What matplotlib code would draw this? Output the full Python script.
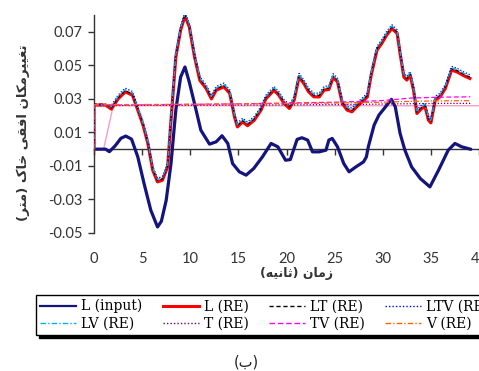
import matplotlib
matplotlib.use("Agg")
import matplotlib.pyplot as plt
from matplotlib.lines import Line2D

# ---------------- data ----------------
t_in = [0, 1.2, 1.6, 2.2, 2.8, 3.3, 3.9, 4.55, 5.2, 5.9, 6.6, 7.0, 7.5, 8.0, 8.5, 9.0, 9.45, 9.9,
        10.45, 11.1, 12.0, 12.7, 13.3, 13.9, 14.4, 15.1, 15.8, 16.6, 17.5, 18.4, 19.1, 19.9, 20.4,
        21.1, 21.6, 22.2, 22.7, 23.4, 24.1, 24.4, 24.75, 25.3, 25.95, 26.5, 27.2, 28.0, 28.3, 28.5,
        29.1, 29.6, 30.3, 30.9, 31.3, 31.8, 32.3, 33.0, 33.9, 34.9, 35.8, 36.8, 37.5, 38.2, 39.1]
L_input = [0, 0, -0.0015, 0.002, 0.0065, 0.0078, 0.006, -0.0046, -0.0205, -0.0364, -0.0464, -0.043,
           -0.0305, -0.0086, 0.0233, 0.043, 0.049, 0.040, 0.027, 0.0113, 0.003, 0.0044, 0.008, 0.0034,
           -0.0086, -0.0135, -0.0155, -0.0115, -0.0046, 0.0034, 0.0014, -0.0066, -0.0062, 0.0058,
           0.0068, 0.0054, -0.0016, -0.0016, -0.0006, 0.0054, 0.0064, 0.0014, -0.0086, -0.0135,
           -0.0106, -0.0076, -0.0046, 0.0014, 0.0143, 0.0203, 0.0253, 0.0297, 0.0253, 0.0094,
           -0.0006, -0.0106, -0.0175, -0.0225, -0.0125, -0.0006, 0.0034, 0.0014, 0.0]

t_re = [0, 0, 1.2, 1.8, 2.5, 3.25, 4.0, 4.55, 5.1, 5.6, 6.1, 6.6, 7.1, 7.65, 8.0, 8.5, 9.0, 9.45,
        9.9, 10.45, 11.0, 11.65, 12.2, 12.7, 13.5, 14.1, 14.6, 14.9, 15.45, 15.95, 16.65, 17.35,
        17.85, 18.7, 19.2, 19.75, 20.3, 20.8, 21.3, 21.8, 22.3, 22.85, 23.4, 23.9, 24.4, 24.85,
        25.3, 25.8, 26.3, 26.8, 27.3, 27.85, 28.4, 28.8, 29.4, 29.9, 30.4, 30.95, 31.5, 31.8, 32.2,
        32.5, 32.85, 33.2, 33.55, 34.05, 34.4, 34.75, 35.0, 35.45, 35.95, 36.5, 37.15, 37.7, 38.5,
        39.05]
L_re = [0, 0.0263, 0.0263, 0.0239, 0.030, 0.0342, 0.0322, 0.0233, 0.0143, 0.0034,
        -0.0125, -0.0195, -0.0185, -0.0106, 0.0173, 0.055, 0.071, 0.0795, 0.073, 0.055,
        0.041, 0.0362, 0.030, 0.0352, 0.0372, 0.0333, 0.0193, 0.0133, 0.0163, 0.0140,
        0.0173, 0.0233, 0.030, 0.0352, 0.0322, 0.0273, 0.0243, 0.0293, 0.043, 0.0392,
        0.0342, 0.0312, 0.0312, 0.0352, 0.0356, 0.0428, 0.0402, 0.0273, 0.0233, 0.0223,
        0.0253, 0.0282, 0.0312, 0.0442, 0.0591, 0.0631, 0.068, 0.072, 0.069, 0.0571,
        0.043, 0.0412, 0.0442, 0.0352, 0.0213, 0.0243, 0.0253, 0.0173, 0.0157, 0.0293,
        0.0312, 0.0362, 0.0472, 0.0461, 0.0436, 0.0422]
LT_re = [0, 0.0268, 0.0268, 0.0245, 0.0307, 0.0349, 0.0329, 0.0240, 0.0150, 0.0041,
         -0.0118, -0.0188, -0.0178, -0.0099, 0.0180, 0.0557, 0.0717, 0.0802, 0.0737, 0.0557,
         0.0418, 0.0370, 0.0308, 0.0360, 0.0380, 0.0341, 0.0201, 0.0141, 0.0171, 0.0148,
         0.0181, 0.0241, 0.0308, 0.0360, 0.0330, 0.0281, 0.0251, 0.0301, 0.0438, 0.0400,
         0.0350, 0.0320, 0.0320, 0.0360, 0.0364, 0.0436, 0.0410, 0.0281, 0.0241, 0.0231,
         0.0261, 0.0290, 0.0320, 0.0450, 0.0599, 0.0639, 0.0688, 0.0728, 0.0698, 0.0579,
         0.0438, 0.0420, 0.0450, 0.0360, 0.0221, 0.0251, 0.0261, 0.0181, 0.0165, 0.0301,
         0.0320, 0.0370, 0.0480, 0.0469, 0.0444, 0.0430]
LTV_re = [0, 0.0265, 0.0265, 0.0261, 0.0322, 0.0364, 0.0344, 0.0255, 0.0165, 0.0056,
          -0.0103, -0.0173, -0.0163, -0.0084, 0.0195, 0.0572, 0.0732, 0.0815, 0.0752, 0.0572,
          0.0432, 0.0384, 0.0322, 0.0374, 0.0394, 0.0355, 0.0215, 0.0155, 0.0185, 0.0162,
          0.0195, 0.0255, 0.0322, 0.0374, 0.0344, 0.0295, 0.0265, 0.0315, 0.0452, 0.0414,
          0.0364, 0.0334, 0.0334, 0.0374, 0.0378, 0.0450, 0.0424, 0.0295, 0.0255, 0.0245,
          0.0275, 0.0304, 0.0334, 0.0464, 0.0613, 0.0653, 0.0702, 0.0742, 0.0712, 0.0593,
          0.0452, 0.0434, 0.0464, 0.0374, 0.0235, 0.0265, 0.0275, 0.0195, 0.0179, 0.0315,
          0.0334, 0.0384, 0.0494, 0.0483, 0.0458, 0.0444]
LV_re = [0, 0.0262, 0.0262, 0.0252, 0.0314, 0.0355, 0.0336, 0.0247, 0.0157, 0.0048,
         -0.0111, -0.0180, -0.0170, -0.0092, 0.0187, 0.0564, 0.0724, 0.0808, 0.0744, 0.0564,
         0.0424, 0.0377, 0.0314, 0.0366, 0.0386, 0.0347, 0.0207, 0.0147, 0.0177, 0.0154,
         0.0187, 0.0247, 0.0314, 0.0366, 0.0336, 0.0287, 0.0257, 0.0307, 0.0444, 0.0406,
         0.0356, 0.0326, 0.0326, 0.0366, 0.0370, 0.0442, 0.0416, 0.0287, 0.0247, 0.0237,
         0.0267, 0.0296, 0.0326, 0.0456, 0.0605, 0.0645, 0.0694, 0.0734, 0.0704, 0.0585,
         0.0444, 0.0426, 0.0456, 0.0366, 0.0227, 0.0257, 0.0267, 0.0187, 0.0171, 0.0307,
         0.0326, 0.0376, 0.0486, 0.0475, 0.0450, 0.0436]

t_flat = [0, 5, 10, 15, 20, 25, 28, 30, 33, 36, 39.1]
T_re = [0.0260, 0.0261, 0.0262, 0.0263, 0.0264, 0.0266, 0.0267, 0.0269, 0.0271, 0.0273, 0.0273]
TV_re = [0.0262, 0.0264, 0.0267, 0.0270, 0.0275, 0.0280, 0.0285, 0.0290, 0.0305, 0.0310, 0.0312]
V_re = [0.0265, 0.0266, 0.0268, 0.0270, 0.0272, 0.0275, 0.0278, 0.0280, 0.0285, 0.0288, 0.0289]

t_pink = [0, 1.0, 2.0, 40]
pink_vals = [0, 0, 0.0259, 0.0259]

y_ticks = [-0.05, -0.03, -0.01, 0.01, 0.03, 0.05, 0.07]
x_ticks = [0, 5, 10, 15, 20, 25, 30, 35, 40]

legend_labels = ['L (input)', 'L (RE)', 'LT (RE)', 'LTV (RE)', 'LV (RE)', 'T (RE)', 'TV (RE)', 'V (RE)']
y_label = "تغییرمکان افقی خاک (متر)"
x_label = "زمان (ثانیه)"
caption = "(ب)"

# ------------- simple Persian shaping (presentation forms, visual order) -------------
AR = {
    '\u0627': ('\uFE8D', '\uFE8E', None, None),
    '\u0628': ('\uFE8F', '\uFE90', '\uFE91', '\uFE92'),
    '\u062A': ('\uFE95', '\uFE96', '\uFE97', '\uFE98'),
    '\u062B': ('\uFE99', '\uFE9A', '\uFE9B', '\uFE9C'),
    '\u062E': ('\uFEA5', '\uFEA6', '\uFEA7', '\uFEA8'),
    '\u0631': ('\uFEAD', '\uFEAE', None, None),
    '\u0632': ('\uFEAF', '\uFEB0', None, None),
    '\u063A': ('\uFECD', '\uFECE', '\uFECF', '\uFED0'),
    '\u0641': ('\uFED1', '\uFED2', '\uFED3', '\uFED4'),
    '\u0642': ('\uFED5', '\uFED6', '\uFED7', '\uFED8'),
    '\u0645': ('\uFEE1', '\uFEE2', '\uFEE3', '\uFEE4'),
    '\u0646': ('\uFEE5', '\uFEE6', '\uFEE7', '\uFEE8'),
    '\u0647': ('\uFEE9', '\uFEEA', '\uFEEB', '\uFEEC'),
    '\u06A9': ('\uFB8E', '\uFB8F', '\uFB90', '\uFB91'),
    '\u06CC': ('\uFBFC', '\uFBFD', '\uFBFE', '\uFBFF'),
}


def shape(s):
    out = []
    n = len(s)
    for i, ch in enumerate(s):
        if ch not in AR:
            out.append(ch)
            continue
        f = AR[ch]
        prev = i > 0 and s[i - 1] in AR and AR[s[i - 1]][2] is not None
        nxt = f[2] is not None and i + 1 < n and s[i + 1] in AR
        if prev and nxt:
            out.append(f[3])
        elif prev:
            out.append(f[1])
        elif nxt:
            out.append(f[2])
        else:
            out.append(f[0])
    vis = ''.join(out)[::-1]
    return vis.translate(str.maketrans('()', ')('))


# ---------------- figure ----------------
W, H = 479, 371
fig = plt.figure(figsize=(W / 100, H / 100), dpi=100)
ax = fig.add_axes([94 / W, 1 - 233 / H, (W - 94) / W, (233 - 15) / H])

styles = {
    'L (input)': dict(color='#14147f', lw=2.3, ls='-'),
    'L (RE)': dict(color='#ff0000', lw=2.3, ls='-'),
    'LT (RE)': dict(color='black', lw=0.9, ls=(0, (3, 2))),
    'LTV (RE)': dict(color='#0000ff', lw=0.9, ls=(0, (1, 1.5))),
    'LV (RE)': dict(color='#00b0f0', lw=0.9, ls=(0, (4, 1.5, 1, 1.5))),
    'T (RE)': dict(color='#660066', lw=0.9, ls=(0, (1, 1.5))),
    'TV (RE)': dict(color='#ff00ff', lw=0.9, ls=(0, (4, 2))),
    'V (RE)': dict(color='#ff6600', lw=0.9, ls=(0, (4, 1.5, 1, 1.5))),
}

ax.plot(t_pink, pink_vals, color='#ff99cc', lw=1.0, zorder=2)
ax.plot(t_in, L_input, zorder=3, **styles['L (input)'])
ax.plot(t_re, L_re, zorder=4, **styles['L (RE)'])
ax.plot(t_re, LT_re, zorder=5, **styles['LT (RE)'])
ax.plot(t_re, LTV_re, zorder=5, **styles['LTV (RE)'])
ax.plot(t_re, LV_re, zorder=5, **styles['LV (RE)'])
ax.plot(t_flat, T_re, zorder=5, **styles['T (RE)'])
ax.plot(t_flat, TV_re, zorder=5, **styles['TV (RE)'])
ax.plot(t_flat, V_re, zorder=5, **styles['V (RE)'])

ax.set_xlim(0, 39.8)
ax.set_ylim(-0.05, 0.08)
ax.spines['top'].set_visible(False)
ax.spines['right'].set_visible(False)
ax.spines['bottom'].set_position(('data', 0))
for s in ('left', 'bottom'):
    ax.spines[s].set_linewidth(1.0)
    ax.spines[s].set_color('#333333')

ax.set_yticks(y_ticks)
ax.set_yticklabels([f"{v:.2f}" for v in y_ticks])
ax.set_xticks(x_ticks)
ax.set_xticklabels([str(v) for v in x_ticks])
ax.tick_params(axis='y', direction='out', length=4, width=1, pad=4, labelsize=10.5,
               colors='#333333', labelcolor='#333333')
ax.tick_params(axis='x', direction='out', length=4, width=1, pad=70, labelsize=10.5,
               colors='#333333', labelcolor='#333333')
for lab in ax.get_xticklabels() + ax.get_yticklabels():
    lab.set_family(['Lato', 'DejaVu Sans'])

pfont = ['DejaVu Sans']
fig.text(23 / W, 1 - 133 / H, shape(y_label), rotation=90, ha='center', va='center',
         fontsize=9.5, fontweight='bold', family=pfont, color='#333333')
fig.text(296 / W, 1 - 274 / H, shape(x_label), ha='center', va='center',
         fontsize=9, fontweight='bold', family=pfont, color='#333333')
fig.text(246 / W, 1 - 362 / H, shape(caption), ha='center', va='center',
         fontsize=10.5, family=pfont, color='#222222')

# legend filled row by row (matplotlib fills column by column)
order = [0, 4, 1, 5, 2, 6, 3, 7]
handles = []
labs = []
for k in order:
    st = styles[legend_labels[k]]
    handles.append(Line2D([], [], color=st['color'], ls=st['ls'],
                          lw=1.6 if k == 0 else (2.2 if k == 1 else 1.0)))
    labs.append(legend_labels[k])
leg = fig.legend(handles, labs, ncol=4, loc='lower left', mode='expand',
                 bbox_to_anchor=(36 / W, 1 - 335 / H, (493 - 36) / W, (335 - 293) / H),
                 borderaxespad=0, frameon=True, fancybox=False,
                 shadow={'color': 'black', 'alpha': 1.0},
                 prop={'family': ['DejaVu Serif'], 'size': 10},
                 handlelength=2.6, handletextpad=0.35, columnspacing=0.5,
                 labelspacing=0.25, borderpad=0.3)
leg.get_frame().set_edgecolor('black')
leg.get_frame().set_linewidth(1.0)

fig.savefig('out.png', dpi=100)
